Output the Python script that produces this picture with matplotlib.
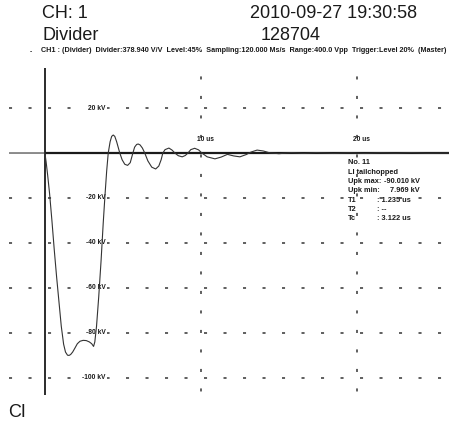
import matplotlib.pyplot as plt

plt.rcParams['lines.scale_dashes'] = False

# header / footer texts
channel = 'CH: 1'
probe = 'Divider'
stamp = '2010-09-27 19:30:58'
shot_id = '128704'
setup_line = ('CH1 : (Divider)  Divider:378.940 V/V  Level:45%  Sampling:120.000 Ms/s  '
              'Range:400.0 Vpp  Trigger:Level 20%  (Master)')
footer = 'CI'

# recorded impulse, time in us, voltage in kV
t_us = [-2.3, -1.0, 0.0, 0.08, 0.18, 0.3, 0.45, 0.6, 0.75, 0.9, 1.05, 1.2, 1.32, 1.45,
        1.55, 1.65, 1.78, 1.92, 2.08, 2.25, 2.45, 2.65, 2.85, 3.0, 3.12, 3.2, 3.31,
        3.45, 3.6, 3.74, 3.85, 3.96, 4.06, 4.18, 4.28, 4.38, 4.48, 4.6, 4.8, 4.95,
        5.12, 5.3, 5.47, 5.64, 5.75, 5.88, 5.98, 6.1, 6.25, 6.4, 6.6, 6.85, 7.1, 7.3,
        7.45, 7.56, 7.7, 7.95, 8.15, 8.33, 8.55, 8.8, 9.0, 9.17, 9.35, 9.6, 9.85,
        10.06, 10.4, 10.9, 11.3, 11.7, 12.1, 12.5, 12.9, 13.2, 13.6, 14.0, 14.4, 15.0,
        15.8, 16.6, 17.4, 18.5, 19.5, 20.5, 21.5, 22.5, 23.5, 24.5, 25.9]
u_kv = [0.0, 0.0, 0.0, -4, -10, -18, -30, -43, -55, -66, -77, -85, -88.5, -89.9,
        -90.0, -89.6, -88.5, -86.8, -84.8, -83.7, -83.3, -83.4, -84.0, -84.8, -86.0,
        -84, -77, -64, -48, -31, -19, -8, 0, 5.0, 7.4, 8.0, 7.4, 5.0, 0, -3.0,
        -5.0, -5.5, -4.3, 0, 2.6, 3.8, 4.0, 3.6, 2.2, 0, -3.5, -6.3, -7.1, -5.8,
        -3.0, 0, 1.5, 2.2, 1.3, 0, -1.2, -1.7, -1.1, 0, 1.5, 2.1, 1.4,
        0, -1.7, -2.6, -1.8, -0.6, -1.3, -1.7, -0.7, 0.4, 1.3, 0.9, 0.1, -0.3,
        0.2, -0.2, 0.2, -0.2, 0.1, -0.2, 0.1, -0.1, 0.2, -0.1, 0.0]

kv_ticks = [20, -20, -40, -60, -80, -100]
us_ticks = [10, 20]

info_labels = ['No. 11', 'LI tailchopped', 'Upk max:', 'Upk min:', 'T1', 'T2', 'Tc']
info_values = ['', '', '-90.010 kV', '7.969 kV', ': 1.235 us', ': --', ': 3.122 us']

W, H = 449, 423
fig = plt.figure(figsize=(W / 100, H / 100), dpi=100)
ax = fig.add_axes([9 / W, (H - 395) / H, 440 / W, 327 / H])
x0, x1 = -2.3, 25.9
ax.set_xlim(x0, x1)
ax.set_ylim(-107.6, 37.8)
ax.axis('off')

ink = '#1a1a1a'
fam = ['Liberation Sans Narrow', 'Liberation Sans']
small = dict(fontsize=4.8, weight='bold', color=ink, family=fam)
info = dict(fontsize=5.3, weight='bold', color=ink, family=fam)

# dotted scope grid
for v in kv_ticks:
    ax.axhline(v, color='#444', lw=1.2, linestyle=(0, (2.2, 11.84)), zorder=1)
for t in us_ticks:
    ax.axvline(t, color='#444', lw=1.2, linestyle=(11.5, (2.2, 11.84)), zorder=1)

# time axis and zero line
ax.axvline(0, color=ink, lw=1.3, zorder=4)
ax.hlines(0, 0, x1, color=ink, lw=1.6, zorder=4)

ax.plot(t_us, u_kv, color='#333', lw=0.8, zorder=5)

for v in kv_ticks:
    ax.text(3.9, v, f'{v} kV', ha='right', va='center', zorder=2,
            bbox=dict(fc='white', ec='none', pad=1.2), **small)
for t in us_ticks:
    ax.text(t - 0.25, 6.2, f'{t} us', ha='left', va='center', zorder=6, **small)

# measurement summary
step = 4.13
for i, (lab, val) in enumerate(zip(info_labels, info_values)):
    y = -4.4 - i * step
    ax.text(19.4, y, lab, ha='left', va='center', zorder=6, **info)
    if val.startswith(':'):
        ax.text(21.28, y, val, ha='left', va='center', zorder=6, **info)
    elif val:
        ax.text(24.04, y, val, ha='right', va='center', zorder=6, **info)

big = dict(fontsize=13, color=ink, va='center', family='Liberation Sans')
fig.text(42 / W, 1 - 13 / H, channel, **big)
fig.text(42 / W, 1 - 36 / H, probe, **big)
fig.text(250 / W, 1 - 13 / H, stamp, **big)
fig.text(261 / W, 1 - 36 / H, shot_id, **big)
fig.text(41 / W, 1 - 51 / H, setup_line, va='center',
         **{**small, 'fontsize': 5.25})
fig.text(30 / W, 1 - 52 / H, '-', va='center', **small)
fig.text(8 / W, 1 - 412 / H, footer, **big)

fig.savefig('out.png', dpi=100)
